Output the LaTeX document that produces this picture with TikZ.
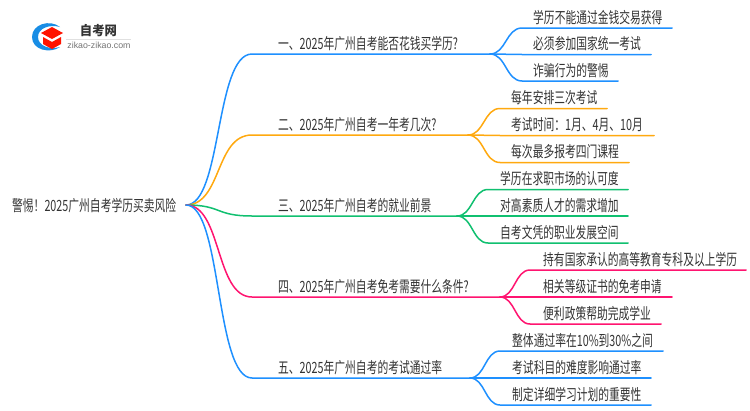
\documentclass[tikz,border=0pt]{standalone}
\usepackage{fontspec}
\setmainfont{Noto Sans CJK SC}[FakeStretch=0.695]
\newfontfamily\logofont{Noto Sans CJK SC}[FakeStretch=0.95]
\newfontfamily\logolat{Liberation Sans}
\definecolor{cblue}{HTML}{1E90FF}
\definecolor{corange}{HTML}{FFA90F}
\definecolor{cgreen}{HTML}{10C070}
\definecolor{cpink}{HTML}{FF1470}
\definecolor{ctext}{HTML}{333333}
\tikzset{
  txt/.style={inner sep=0pt,anchor=base west,text=ctext,font=\fontsize{15.5}{17}\selectfont},
  wire/.style={line width=1.5pt,line cap=round}
}
\begin{document}
\begin{tikzpicture}[x=1pt,y=-1pt]
\useasboundingbox (0,0) rectangle (750,410);
\fill[white] (0,0) rectangle (750,410);
% logo
\fill[cblue!80!teal] (60,27) .. controls (50,19) and (32,24) .. (32,37) .. controls (32,50) and (50,54) .. (60,47)
  .. controls (50,50) and (38,46) .. (38,37) .. controls (38,28) and (50,24) .. (60,27) -- cycle;
\fill[red!85!orange] (52,27) -- (63,33) -- (52,39) -- (41,33) -- cycle;
\fill[red!85!orange] (43,37) -- (52,42) -- (61,37) -- (61,44) -- (52,49) -- (43,44) -- cycle;
\node[inner sep=0pt,text=ctext] (logotitle) at (98.5,30.5) {\logofont\fontsize{13}{14}\selectfont\bfseries 自考网};
\draw[black!12,line width=.5pt] (66,39) -- (131,39);
\node[inner sep=0pt,text=black!55] (logourl) at (99,45) {\logolat\fontsize{8.8}{10}\selectfont zikao-zikao.com};
% root
\node[txt] (root) at (12,211) {警惕！2025广州自考学历买卖风险};
\coordinate (r) at (186,205);
% branch nodes
\def\branch#1#2#3#4#5{%
  \coordinate (b#1s) at (252,#2);
  \coordinate (b#1e) at (#3,#2);
  \node[txt] (b#1t) at (278,#2-4.8) {#5};
  \draw[wire,#4] (r) .. controls (222,205) and (215,#2) .. (b#1s) -- (b#1e);
}
\def\leaf#1#2#3#4#5#6#7#8{%
  \coordinate (l#1#2s) at (#5,#4);
  \coordinate (l#1#2e) at (#6,#4);
  \node[txt] (l#1#2t) at (#7,#4-4.8) {#8};
  \draw[wire,#3] (b#1e) .. controls ({(#5+\csname bx#1\endcsname)/2},\csname by#1\endcsname) and ({(#5+\csname bx#1\endcsname)/2},#4) .. (l#1#2s) -- (l#1#2e);
}
\def\bxa{490}\def\bya{54}
\def\bxb{468}\def\byb{135}
\def\bxc{457}\def\byc{216}
\def\bxd{500}\def\byd{297}
\def\bxe{470}\def\bye{378}
\branch{a}{54}{490}{cblue}{一、2025年广州自考能否花钱买学历?}
\branch{b}{135}{468}{corange}{二、2025年广州自考一年考几次?}
\branch{c}{216}{457}{cgreen}{三、2025年广州自考的就业前景}
\branch{d}{297}{500}{cpink}{四、2025年广州自考免考需要什么条件?}
\branch{e}{378}{470}{cblue}{五、2025年广州自考的考试通过率}
\leaf{a}{1}{cblue}{28}{522}{672}{533}{学历不能通过金钱交易获得}
\leaf{a}{2}{cblue}{54.5}{522}{651}{533}{必须参加国家统一考试}
\leaf{a}{3}{cblue}{81}{522}{618}{533}{诈骗行为的警惕}
\leaf{b}{1}{corange}{108.5}{500}{607}{511}{每年安排三次考试}
\leaf{b}{2}{corange}{135.5}{500}{654}{511}{考试时间：1月、4月、10月}
\leaf{b}{3}{corange}{162.5}{500}{629}{511}{每次最多报考四门课程}
\leaf{c}{1}{cgreen}{189.5}{488}{628}{500}{学历在求职市场的认可度}
\leaf{c}{2}{cgreen}{216}{488}{628}{500}{对高素质人才的需求增加}
\leaf{c}{3}{cgreen}{243}{488}{628}{500}{自考文凭的职业发展空间}
\leaf{d}{1}{cpink}{270}{530}{746}{543}{持有国家承认的高等教育专科及以上学历}
\leaf{d}{2}{cpink}{297}{530}{672}{543}{相关等级证书的免考申请}
\leaf{d}{3}{cpink}{324}{530}{661}{543}{便利政策帮助完成学业}
\leaf{e}{1}{cblue}{351}{500}{663}{512}{整体通过率在10\%到30\%之间}
\leaf{e}{2}{cblue}{378}{500}{651}{512}{考试科目的难度影响通过率}
\leaf{e}{3}{cblue}{405}{500}{651}{512}{制定详细学习计划的重要性}
\end{tikzpicture}
\end{document}
